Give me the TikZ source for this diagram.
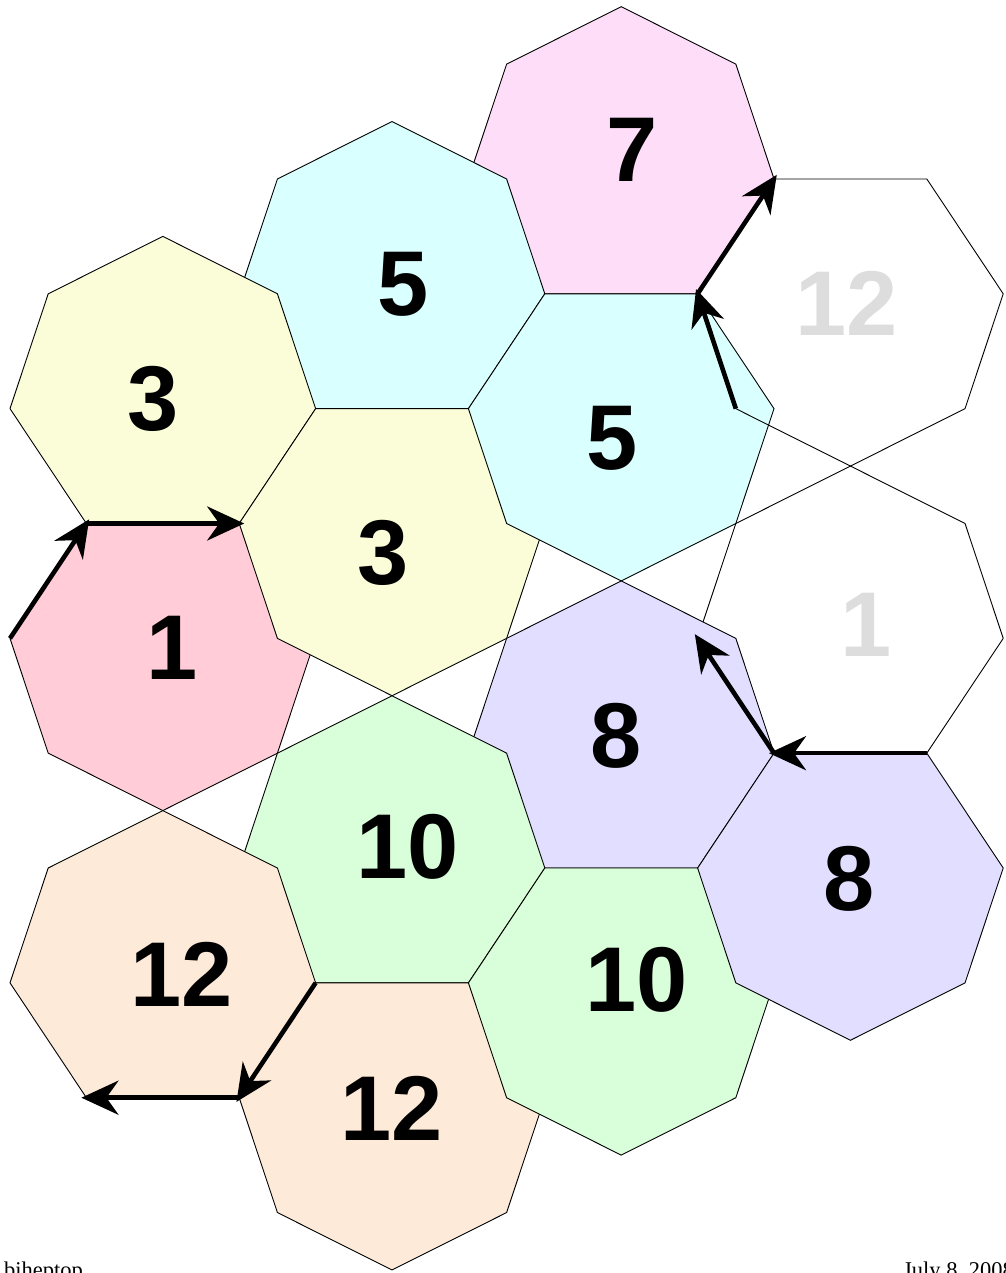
\documentclass[tikz,border=0pt]{standalone}
\usepackage{fontspec}
\setmainfont{Liberation Serif}
\newfontfamily\lblfont{Liberation Sans}
\usetikzlibrary{arrows.meta}
\definecolor{cPink}{RGB}{255,204,216}
\definecolor{cYellow}{RGB}{250,253,216}
\definecolor{cCyan}{RGB}{217,255,255}
\definecolor{cMagenta}{RGB}{254,221,248}
\definecolor{cPurple}{RGB}{226,222,255}
\definecolor{cGreen}{RGB}{217,254,218}
\definecolor{cPeach}{RGB}{254,234,216}
\definecolor{cGrayTxt}{RGB}{221,221,221}
\tikzset{
  face/.style={draw=black, line width=0.9pt, line join=miter},
  arr/.style={line width=4.6pt, shorten >=-5pt, -{Stealth[length=37pt,width=34pt,inset=12pt]}},
  lbl/.style={font=\lblfont\bfseries\fontsize{92}{92}\selectfont, inner sep=0pt, text=black},
  ghost/.style={lbl, text=cGrayTxt},
  foot/.style={font=\fontsize{22.5}{24}\selectfont, inner sep=0pt, anchor=base west}
}
% heptagon with top vertex at #1
\newcommand\hepTop[2]{#2 -- ++(3,1) -- ++(1,2) -- ++(-2,2) -- ++(-4,0) -- ++(-2,-2) -- ++(1,-2) -- cycle}
% heptagon with bottom vertex at #1
\newcommand\hepBot[2]{#2 -- ++(3,-1) -- ++(1,-2) -- ++(-2,-2) -- ++(-4,0) -- ++(-2,2) -- ++(1,2) -- cycle}
\begin{document}
\begin{tikzpicture}[x=38.2pt, y=-57.42pt]
\useasboundingbox (-0.26178,-0.11668) rectangle (26.0471,22.0529);
\fill[white] (-0.26178,-0.11668) rectangle (26.0471,22.0529);

% faces, in drawing order
\path[face, fill=cMagenta] \hepTop{}{(16,0)};
\path[face, fill=cCyan]    \hepTop{}{(10,2)};
\path[face, fill=cYellow]  \hepTop{}{(4,4)};
\path[face, fill=cPink]    \hepBot{}{(4,14)};
\path[face, fill=cYellow]  \hepBot{}{(10,12)};
\path[face, fill=cCyan]    \hepBot{}{(16,10)};
\path[face]                \hepBot{}{(22,8)};
\path[face]                \hepTop{}{(22,8)};
\path[face, fill=cPurple]  \hepTop{}{(16,10)};
\path[face, fill=cGreen]   \hepTop{}{(10,12)};
\path[face, fill=cPeach]   \hepTop{}{(4,14)};
\path[face, fill=cPeach]   \hepBot{}{(10,22)};
\path[face, fill=cGreen]   \hepBot{}{(16,20)};
\path[face, fill=cPurple]  \hepBot{}{(22,18)};

% arrow end points
\coordinate (a1) at (0,11);
\coordinate (a2) at (2,9);
\coordinate (a3) at (6,9);
\coordinate (b1) at (19,7);
\coordinate (b2) at (18,5);
\coordinate (b3) at (20,3);
\coordinate (c1) at (24,13);
\coordinate (c2) at (20,13);
\coordinate (c3) at (18,11);
\coordinate (d1) at (8,17);
\coordinate (d2) at (6,19);
\coordinate (d3) at (2,19);

\draw[arr] (a1) -- (a2);
\draw[arr] (a2) -- (a3);
\draw[arr] (b1) -- (b2);
\draw[arr] (b2) -- (b3);
\draw[arr] (c1) -- (c2);
\draw[arr] (c2) -- (c3);
\draw[arr] (d1) -- (d2);
\draw[arr] (d2) -- (d3);

% labels (pixel coordinates)
\begin{scope}[x=1pt, y=-1pt, shift={(-10pt,6.7pt)}]
\node[lbl]   (t7)   at (632,150)   {7};
\node[lbl]   (t5a)  at (403,284)   {5};
\node[lbl]   (t3a)  at (153,399)   {3};
\node[lbl]   (t3b)  at (383,553)   {3};
\node[lbl]   (t5b)  at (612.5,438.5) {5};
\node[ghost] (t12w) at (846.5,303.5) {12};
\node[lbl]   (t1)   at (172,648)   {1};
\node[ghost] (t1w)  at (866,625)   {1};
\node[lbl]   (t8a)  at (616.5,736) {8};
\node[lbl]   (t10a) at (407.5,847) {10};
\node[lbl]   (t12a) at (181.5,974) {12};
\node[lbl]   (t8b)  at (849,879)   {8};
\node[lbl]   (t10b) at (636.5,980) {10};
\node[lbl]   (t12b) at (392,1108)  {12};
\node[foot]  (f1)   at (4,1277)    {biheptop};
\node[foot]  (f2)   at (903,1277)  {July 8, 2008};
\end{scope}
\end{tikzpicture}
\end{document}
